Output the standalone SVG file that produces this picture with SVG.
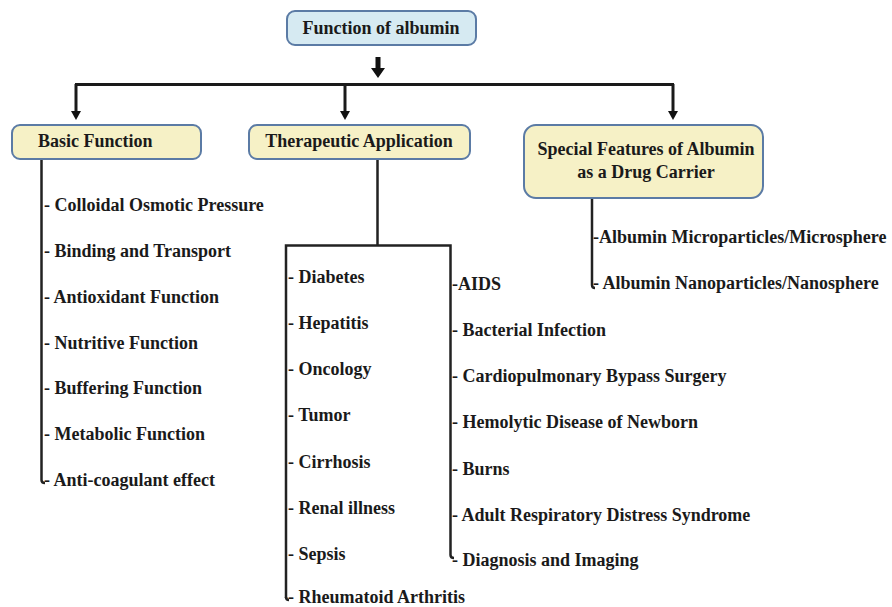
<svg xmlns="http://www.w3.org/2000/svg" width="892" height="607" viewBox="0 0 892 607">
<style>
.t{font-family:'Liberation Serif',serif;font-weight:700;font-size:18px;fill:#1a1a1a}
.c{text-anchor:middle}
.blue{fill:#d6eaf2;stroke:#5b7ba5;stroke-width:2}
.yel{fill:#f6f1c6;stroke:#5b7ba5;stroke-width:2}
.ln{fill:none;stroke:#1a1a1a;stroke-width:3}
.ln2{fill:none;stroke:#222;stroke-width:2.5}
.ah{fill:#111}
</style>
<rect width="892" height="607" fill="#fff"/>
<g id="connectors">
<polygon class="ah" points="375.5,57 380.5,57 380.5,68 385,68 378,78 371,68 375.5,68"/>
<path class="ln" d="M75,84.5 H674"/>
<path class="ln" d="M76,84 V112"/>
<polygon class="ah" points="71,111 81,111 76,120"/>
<path class="ln" d="M345,84 V112"/>
<polygon class="ah" points="340,111 350,111 345,120"/>
<path class="ln" d="M673,84 V112"/>
<polygon class="ah" points="668,111 678,111 673,120"/>
<path class="ln2" d="M41.5,159 V480 Q41.5,483 45,483"/>
<path class="ln2" d="M377.5,159 V245.5 M286,598 V245.5 H450.5 V555 Q450.5,558 454,558"/>
<path class="ln2" d="M286,597 Q286,600 289,600"/>
<path class="ln2" d="M592,198 V285 Q592,288 595,288"/>
</g>
<g id="node-title">
<rect class="blue" x="287" y="11" width="189" height="34" rx="8"/>
<text class="t c" x="381" y="34">Function of albumin</text>
</g>
<g id="node-basic">
<rect class="yel" x="12" y="125" width="189" height="34" rx="8"/>
<text class="t" x="38" y="147">Basic Function</text>
</g>
<g id="node-therapeutic">
<rect class="yel" x="249" y="125" width="221" height="34" rx="8"/>
<text class="t c" x="359" y="147">Therapeutic Application</text>
</g>
<g id="node-special">
<rect class="yel" x="524" y="125" width="239" height="73" rx="12"/>
<text class="t c" x="646" y="155">Special Features of Albumin</text>
<text class="t c" x="646" y="178">as a Drug Carrier</text>
</g>
<g id="basic-items">
<text class="t" x="44" y="211">- Colloidal Osmotic Pressure</text>
<text class="t" x="44" y="257">- Binding and Transport</text>
<text class="t" x="44" y="303">- Antioxidant Function</text>
<text class="t" x="44" y="349">- Nutritive Function</text>
<text class="t" x="44" y="394">- Buffering Function</text>
<text class="t" x="44" y="440">- Metabolic Function</text>
<text class="t" x="44" y="486">- Anti-coagulant effect</text>
</g>
<g id="therapeutic-items-left">
<text class="t" x="288" y="283">- Diabetes</text>
<text class="t" x="288" y="329">- Hepatitis</text>
<text class="t" x="288" y="375">- Oncology</text>
<text class="t" x="288" y="421">- Tumor</text>
<text class="t" x="288" y="468">- Cirrhosis</text>
<text class="t" x="288" y="514">- Renal illness</text>
<text class="t" x="288" y="560">- Sepsis</text>
<text class="t" x="288" y="603">- Rheumatoid Arthritis</text>
</g>
<g id="therapeutic-items-right">
<text class="t" x="452" y="290">-AIDS</text>
<text class="t" x="452" y="336">- Bacterial Infection</text>
<text class="t" x="452" y="382">- Cardiopulmonary Bypass Surgery</text>
<text class="t" x="452" y="428">- Hemolytic Disease of Newborn</text>
<text class="t" x="452" y="475">- Burns</text>
<text class="t" x="452" y="521">- Adult Respiratory Distress Syndrome</text>
<text class="t" x="452" y="566">- Diagnosis and Imaging</text>
</g>
<g id="special-items">
<text class="t" x="593" y="243">-Albumin Microparticles/Microsphere</text>
<text class="t" x="593" y="289">- Albumin Nanoparticles/Nanosphere</text>
</g>
</svg>
